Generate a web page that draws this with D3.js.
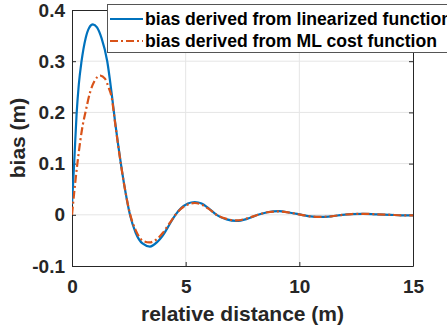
<!DOCTYPE html>
<html>
<head>
<meta charset="utf-8">
<script src="https://cdn.jsdelivr.net/npm/d3@7"></script>
<style>
  body { margin: 0; background: #fff; }
  text { font-family: "Liberation Sans", Arial, sans-serif; font-weight: bold; }
</style>
</head>
<body>
<div id="chart"></div>
<script>
// Data
var xTicks = [0, 5, 10, 15];
var yTicks = [-0.1, 0, 0.1, 0.2, 0.3, 0.4];
var yTickLabels = ['-0.1', '0', '0.1', '0.2', '0.3', '0.4'];
var seriesNames = ['bias derived from linearized function', 'bias derived from ML cost function'];

var linX = [0, 0.1, 0.2, 0.3, 0.42, 0.6, 0.75, 0.92, 1.1, 1.3, 1.55, 1.75, 1.9, 2.15, 2.35, 2.55, 2.8, 3.1, 3.43, 3.75, 4.0, 4.3, 4.55, 4.8, 5.1, 5.4, 5.7, 6.0, 6.36, 6.8, 7.24, 7.7, 8.18, 8.6, 9.1, 9.6, 10.1, 10.5, 10.9, 11.4, 11.9, 12.3, 12.8, 13.4, 14.0, 14.5, 15];
var linBias = [0.02, 0.105, 0.195, 0.255, 0.3, 0.345, 0.365, 0.372, 0.366, 0.345, 0.3, 0.235, 0.18, 0.1, 0.045, 0.0, -0.035, -0.056, -0.062, -0.053, -0.04, -0.018, 0.0, 0.013, 0.022, 0.025, 0.022, 0.013, 0.0, -0.009, -0.012, -0.008, 0.0, 0.005, 0.007, 0.004, 0.0, -0.003, -0.004, -0.003, 0.0, 0.0015, 0.002, 0.001, 0.0, -0.001, -0.001];

var mlX = [0, 0.1, 0.25, 0.48, 0.59, 0.8, 1.0, 1.25, 1.45, 1.6, 1.75, 1.9, 2.15, 2.35, 2.55, 2.8, 3.1, 3.4, 3.75, 4.0, 4.3, 4.55, 4.8, 5.1, 5.4, 5.7, 6.0, 6.36, 6.8, 7.24, 7.7, 8.18, 8.6, 9.1, 9.6, 10.1, 10.5, 10.9, 11.4, 11.9, 12.3, 12.8, 13.4, 14.0, 14.5, 15];
var mlBias = [0.0, 0.045, 0.105, 0.177, 0.2, 0.24, 0.262, 0.272, 0.266, 0.25, 0.228, 0.178, 0.099, 0.045, 0.002, -0.03, -0.05, -0.054, -0.047, -0.035, -0.016, 0.0, 0.012, 0.02, 0.023, 0.02, 0.012, 0.0, -0.008, -0.011, -0.007, 0.0, 0.005, 0.0065, 0.004, 0.0, -0.003, -0.004, -0.003, 0.0, 0.0015, 0.002, 0.001, 0.0, -0.001, -0.001];

// Layout
var cfg = {
  width: 447,
  height: 330,
  margin: {top: 10, right: 34, bottom: 64, left: 72},
  axisColor: '#262626',
  gridColor: '#e5e5e5',
  colors: ['#0072BD', '#D95319']
};
var w = cfg.width - cfg.margin.left - cfg.margin.right;
var h = cfg.height - cfg.margin.top - cfg.margin.bottom;

var svg = d3.select('#chart').append('svg')
  .attr('width', cfg.width)
  .attr('height', cfg.height);

var g = svg.append('g')
  .attr('transform', 'translate(' + cfg.margin.left + ',' + cfg.margin.top + ')');

// Scales
var x = d3.scaleLinear().domain([0, 15]).range([0, w]);
var y = d3.scaleLinear().domain([-0.1, 0.4]).range([h, 0]);

// Grid lines
g.append('g').selectAll('line.gx')
  .data(xTicks.slice(1, -1))
  .enter().append('line')
  .attr('x1', function(d) { return x(d); })
  .attr('x2', function(d) { return x(d); })
  .attr('y1', 0).attr('y2', h)
  .style('stroke', cfg.gridColor);

g.append('g').selectAll('line.gy')
  .data(yTicks.slice(1, -1))
  .enter().append('line')
  .attr('x1', 0).attr('x2', w)
  .attr('y1', function(d) { return y(d); })
  .attr('y2', function(d) { return y(d); })
  .style('stroke', cfg.gridColor);

// Axes (ticks inside, mirrored on the box)
var xAxis = g.append('g')
  .attr('transform', 'translate(0,' + h + ')')
  .call(d3.axisBottom(x).tickValues(xTicks).tickSizeInner(-4).tickSizeOuter(0).tickPadding(14));
var xAxisTop = g.append('g')
  .call(d3.axisTop(x).tickValues(xTicks).tickSizeInner(-4).tickSizeOuter(0).tickFormat(''));
var yAxis = g.append('g')
  .call(d3.axisLeft(y).tickValues(yTicks).tickSizeInner(-4).tickSizeOuter(0).tickPadding(7)
    .tickFormat(function(d, i) { return yTickLabels[i]; }));
var yAxisRight = g.append('g')
  .attr('transform', 'translate(' + w + ',0)')
  .call(d3.axisRight(y).tickValues(yTicks).tickSizeInner(-4).tickSizeOuter(0).tickFormat(''));

[xAxis, xAxisTop, yAxis, yAxisRight].forEach(function(a) {
  a.selectAll('path, line').style('stroke', cfg.axisColor);
  a.selectAll('text').style('fill', cfg.axisColor).style('font-size', '19px');
});

// Axis labels
g.append('text')
  .attr('x', w / 2)
  .attr('y', h + 55)
  .attr('text-anchor', 'middle')
  .style('font-size', '21px')
  .style('fill', cfg.axisColor)
  .text('relative distance (m)');

g.append('text')
  .attr('transform', 'translate(' + (-47) + ',' + (h / 2) + ') rotate(-90)')
  .attr('text-anchor', 'middle')
  .style('font-size', '21px')
  .style('fill', cfg.axisColor)
  .text('bias (m)');

// Curves
g.append('clipPath').attr('id', 'plot-clip')
  .append('rect').attr('width', w).attr('height', h);

var line = d3.line()
  .curve(d3.curveMonotoneX)
  .x(function(d) { return x(d[0]); })
  .y(function(d) { return y(d[1]); });

var linData = linX.map(function(d, i) { return [d, linBias[i]]; });
var mlData = mlX.map(function(d, i) { return [d, mlBias[i]]; });

g.append('path')
  .attr('d', line(linData))
  .attr('clip-path', 'url(#plot-clip)')
  .style('fill', 'none')
  .style('stroke', cfg.colors[0])
  .style('stroke-width', 2.2);

g.append('path')
  .attr('d', line(mlData))
  .attr('clip-path', 'url(#plot-clip)')
  .style('fill', 'none')
  .style('stroke', cfg.colors[1])
  .style('stroke-width', 2.2)
  .style('stroke-dasharray', '8,3,2,3');

// Legend
var legend = svg.append('g').attr('transform', 'translate(107,4)');
legend.append('rect')
  .attr('x', 0.5).attr('y', 0.5)
  .attr('width', 360).attr('height', 48)
  .style('fill', '#fff')
  .style('stroke', '#555')
  .style('stroke-width', 1);

seriesNames.forEach(function(name, i) {
  var ly = 15 + i * 22;
  legend.append('line')
    .attr('x1', 3).attr('x2', 36)
    .attr('y1', ly).attr('y2', ly)
    .style('stroke', cfg.colors[i])
    .style('stroke-width', 2.2)
    .style('stroke-dasharray', i === 1 ? '8,3,2,3' : null);
  legend.append('text')
    .attr('x', 38)
    .attr('y', ly)
    .attr('dy', '0.35em')
    .style('font-size', '17.6px')
    .style('fill', '#000')
    .text(name);
});
</script>
</body>
</html>
